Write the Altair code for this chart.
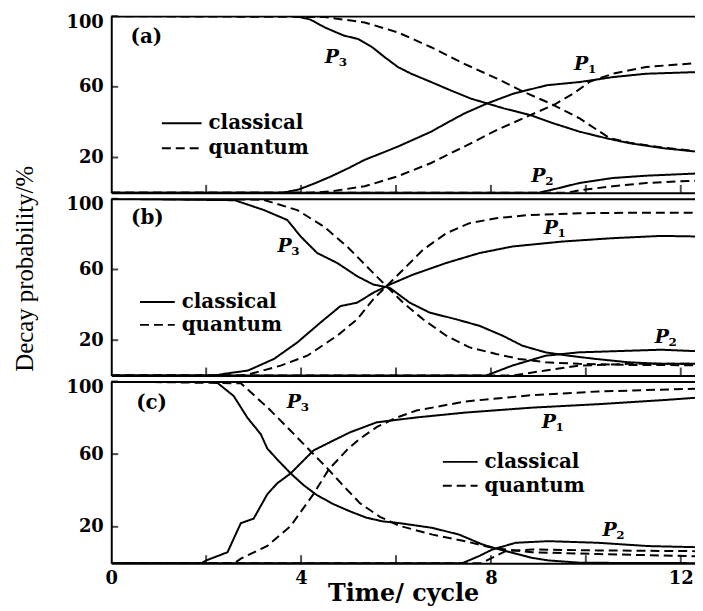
import altair as alt
import pandas as pd

# ---------------- data ----------------
# panel (a)
a_P3_cl_t = [0, 3.9, 4.2, 4.5, 4.9, 5.2, 5.5, 5.76, 6.04, 6.32, 6.74, 7.15, 7.57, 7.92, 8.27, 8.83, 9.32, 9.87, 10.43, 10.92, 11.62, 12.3]
a_P3_cl_p = [100, 100, 98, 93.6, 89.0, 87.1, 82.4, 76.8, 71.2, 67.4, 62.7, 58.0, 53.4, 50.6, 47.8, 44.0, 39.3, 34.6, 30.9, 28.1, 25.3, 23.4]
a_P3_qu_t = [0, 4.5, 5.34, 6.04, 6.74, 7.44, 8.13, 8.69, 9.25, 9.87, 10.5, 10.92, 11.62, 12.3]
a_P3_qu_p = [100, 99.5, 96.4, 90.8, 82.4, 73.0, 64.6, 57.1, 50.6, 42.1, 31.0, 28.4, 25.6, 23.7]
a_P1_cl_t = [0, 3.6, 3.95, 4.3, 4.64, 5.0, 5.34, 5.7, 6.04, 6.4, 6.74, 7.1, 7.44, 7.92, 8.48, 9.18, 9.87, 10.57, 11.27, 12.3]
a_P1_cl_p = [0, 0, 1.9, 5.5, 9.4, 14, 18.7, 22.5, 26.2, 30.5, 34.6, 40, 44.9, 50.6, 56.2, 60.9, 62.7, 65.5, 67.4, 68.3]
a_P1_qu_t = [0, 4.2, 4.64, 5.34, 6.04, 6.74, 7.44, 8.13, 8.83, 9.32, 9.74, 10.09, 10.57, 11.27, 12.3]
a_P1_qu_p = [0, 0, 0.9, 3.7, 9.4, 16.9, 26.2, 35.6, 44.0, 49.7, 56.2, 63.0, 67.4, 71.2, 73.4]
a_P2_cl_t = [0, 9.0, 9.4, 9.87, 10.57, 11.27, 12.3]
a_P2_cl_p = [0, 0, 2.5, 5.6, 8.4, 9.7, 10.9]
a_P2_qu_t = [0, 9.6, 9.87, 10.57, 11.27, 12.3]
a_P2_qu_p = [0, 0, 1.5, 3.7, 5.6, 6.9]

# panel (b)
b_P3_cl_t = [0, 2.6, 3.22, 3.71, 3.99, 4.34, 4.76, 5.18, 5.52, 5.87, 6.29, 6.71, 7.27, 7.76, 8.25, 8.66, 9.15, 9.64, 10.2, 10.89, 11.59, 12.3]
b_P3_cl_p = [100, 99.2, 93.6, 88, 78.7, 69.3, 63.7, 56.2, 51.5, 49.6, 41.2, 35.6, 31.8, 28.1, 22.5, 16.9, 13.1, 11.2, 9.4, 7.5, 6.6, 6.6]
b_P3_qu_t = [0, 3.2, 3.92, 4.48, 4.97, 5.45, 5.73, 6.15, 6.57, 7.06, 7.55, 8.11, 8.59, 9.15, 9.85, 10.89, 12.3]
b_P3_qu_p = [100, 99.5, 93.6, 84.3, 73.0, 59.9, 52.4, 41.2, 31.8, 22.5, 15.9, 12.2, 9.4, 7.5, 6.6, 6.0, 5.8]
b_P1_cl_t = [0, 2.2, 2.39, 2.88, 3.43, 3.92, 4.41, 4.83, 5.18, 5.52, 5.87, 6.36, 7.06, 7.76, 8.45, 9.50, 10.55, 11.59, 12.3]
b_P1_cl_p = [0, 0, 1, 2.8, 9.4, 18.7, 30, 39.3, 41.2, 46.8, 51.5, 57.1, 63.7, 69.3, 73.0, 75.8, 77.7, 79.0, 78.7]
b_P1_qu_t = [0, 2.7, 2.88, 3.57, 4.13, 4.76, 5.18, 5.52, 5.80, 6.15, 6.57, 7.06, 7.55, 8.11, 8.80, 9.85, 10.89, 12.3]
b_P1_qu_p = [0, 0, 0.5, 5.6, 11.2, 22.5, 31.8, 43.1, 50.6, 59.9, 71.2, 80.5, 86.2, 89.0, 90.8, 91.8, 92.1, 92.1]
b_P2_cl_t = [0, 7.9, 8.45, 9.15, 9.85, 10.89, 11.59, 12.3]
b_P2_cl_p = [0, 0, 5.6, 11.2, 13.1, 14.0, 14.6, 13.8]
b_P2_qu_t = [0, 8.45, 9.15, 9.85, 10.89, 12.3]
b_P2_qu_p = [0, 0, 2.8, 5.6, 6.6, 6.6]

# panel (c)
c_P3_cl_t = [0, 2.2, 2.58, 2.87, 3.15, 3.29, 3.5, 3.78, 4.05, 4.33, 4.68, 5.03, 5.38, 5.72, 6.08, 6.77, 7.33, 7.82, 8.17, 8.87, 9.21, 9.9, 12.3]
c_P3_cl_p = [100, 100, 92, 80, 71, 63, 57, 49.4, 43, 37.5, 32.5, 28.5, 25, 23, 22, 19.4, 15.7, 10.3, 7.6, 2.9, 1.5, 0.2, 0]
c_P3_qu_t = [0, 2.73, 3.28, 3.70, 4.15, 4.56, 4.93, 5.24, 5.66, 6.08, 6.77, 7.47, 8.03, 8.87, 10.26, 12.3]
c_P3_qu_p = [100, 99, 86, 75, 63, 52, 41.5, 33, 25.5, 20.5, 15.7, 12, 8.4, 6.0, 5.0, 3.8]
c_P1_cl_t = [0, 1.9, 2.0, 2.45, 2.73, 3.0, 3.29, 3.5, 3.78, 4.26, 4.68, 5.03, 5.59, 6.43, 7.47, 8.87, 10.26, 11.66, 12.3]
c_P1_cl_p = [0, 0, 1.5, 6, 22, 24.5, 38, 44, 49.4, 62, 67.5, 72, 77.5, 80.2, 82.9, 85.6, 87.5, 89.8, 91]
c_P1_qu_t = [0, 2.6, 2.73, 3.29, 3.78, 4.26, 4.58, 4.97, 5.24, 5.60, 6.0, 6.43, 7.47, 8.87, 10.26, 12.3]
c_P1_qu_p = [0, 0, 2.5, 9.5, 20.4, 38, 51.5, 62.4, 68.5, 75, 80, 84, 89, 92.5, 94.5, 96]
c_P2_cl_t = [0, 7.4, 7.75, 8.03, 8.52, 9.21, 10.26, 11.31, 12.3]
c_P2_cl_p = [0, 0, 3.9, 7.5, 11.2, 12.1, 11.2, 9.4, 8.8]
c_P2_qu_t = [0, 7.8, 8.31, 8.87, 10.26, 12.3]
c_P2_qu_p = [0, 0, 6.6, 7.5, 7.0, 6.6]

# curve labels (P_n) per panel
a_lab_t = [4.65, 9.9, 9.0]
a_lab_p = [77, 73, 9.6]
b_lab_t = [3.65, 9.26, 11.6]
b_lab_p = [73, 83.3, 21.5]
c_lab_t = [3.85, 9.22, 10.5]
c_lab_p = [88.4, 77.5, 18.4]
lab_num = ["3", "1", "2"]

# panel tags
tags = ["(a)", "(b)", "(c)"]
tag_t = [0.74, 0.76, 0.85]
tag_p = [88, 89, 88]

models = ["classical", "quantum"]
x_label_values = [0, 4, 8, 12]
x_tick_values = [2, 4, 6, 8, 10, 12]
y_values = [20, 60, 100]

XMAX = 12.3
W = 588
FONT = "DejaVu Serif"


def curves_df(d):
    rows = []
    for (name, model), (ts, ps) in d.items():
        for t, p in zip(ts, ps):
            rows.append({"t": t, "p": p, "key": name + "-" + model, "model": model})
    return pd.DataFrame(rows)


def make_panel(curves, lab_t, lab_p, tag_i, H, legend_cfg, bottom_labels, y_title):
    df = curves_df(curves)
    xs = alt.Scale(domain=[0, XMAX], nice=False, zero=False)
    ys = alt.Scale(domain=[0, 100], nice=False)

    x_axis_kw = dict(orient="bottom", values=x_label_values, ticks=False, tickSize=0,
                     domain=True, domainWidth=2, domainColor="black", grid=False,
                     labelFlush=False, labels=bottom_labels, labelPadding=7)
    if bottom_labels:
        x_axis_kw.update(title="Time/ cycle", titleFont=FONT, titleFontSize=24,
                         titleFontWeight="bold", titleColor="black",
                         titleBaseline="alphabetic", titleY=38)
    else:
        x_axis_kw.update(title=None)

    y_axis_kw = dict(orient="left", values=y_values, ticks=False, tickSize=0,
                     domain=True, domainWidth=2, domainColor="black", grid=False,
                     labelFlush=True, labelFlushOffset=3, labelPadding=8)
    if y_title:
        y_axis_kw.update(title=y_title, titleFont="Liberation Serif", titleFontSize=25,
                         titleFontWeight="normal", titleColor="black", titleAngle=270,
                         titleX=-79, titleY=70, titleBaseline="alphabetic", titleAlign="center")
    else:
        y_axis_kw.update(title=None)

    lx, ly, half_len, lrow = legend_cfg
    lines = alt.Chart(df).mark_line(color="black", strokeWidth=2, clip=True).encode(
        x=alt.X("t:Q", scale=xs, axis=alt.Axis(**x_axis_kw)),
        y=alt.Y("p:Q", scale=ys, axis=alt.Axis(**y_axis_kw)),
        detail="key:N",
        strokeDash=alt.StrokeDash(
            "model:N",
            scale=alt.Scale(domain=models, range=[[1, 0], [9, 5]]),
            legend=alt.Legend(title=None, orient="none", legendX=lx, legendY=ly,
                              symbolType=f"M-{half_len / 10},0H{half_len / 10}", symbolSize=400,
                              symbolOffset=half_len - 10, symbolStrokeWidth=2,
                              symbolStrokeColor="black", labelFont=FONT, labelFontSize=20,
                              labelFontWeight="bold", labelColor="black",
                              labelOffset=half_len - 4,
                              rowPadding=lrow, padding=0),
        ),
    )

    lab_df = pd.DataFrame({"t": lab_t, "p": lab_p, "num": lab_num, "letter": ["P"] * 3})

    letters = alt.Chart(lab_df).mark_text(font=FONT, fontSize=19, fontStyle="italic",
                                           fontWeight="bold", color="black").encode(
        x=alt.X("t:Q", scale=xs, axis=alt.Axis(orient="top", labels=False, ticks=False, domain=True,
                                               domainWidth=2, domainColor="black", grid=False, title=None)),
        y=alt.Y("p:Q", scale=ys, axis=None),
        text="letter:N",
    )

    subs = alt.Chart(lab_df).mark_text(font=FONT, fontSize=12, fontWeight="bold", color="black",
                                        dx=11, dy=5).encode(
        x=alt.X("t:Q", scale=xs, axis=None),
        y=alt.Y("p:Q", scale=ys, axis=None),
        text="num:N",
    )

    # inward-pointing ticks, drawn on the axes' own scales
    xt = alt.Chart(pd.DataFrame({"v": x_tick_values})).mark_tick(
        color="black", thickness=2, size=8, orient="vertical").encode(
        x=alt.X("v:Q", scale=xs, axis=None), y=alt.value(H - 4))
    yt = alt.Chart(pd.DataFrame({"v": y_values})).mark_tick(
        color="black", thickness=2, size=7, orient="horizontal").encode(
        y=alt.Y("v:Q", scale=ys, axis=None), x=alt.value(3.5))

    tag_df = pd.DataFrame({"t": [tag_t[tag_i]], "p": [tag_p[tag_i]], "tag": [tags[tag_i]]})
    tag = alt.Chart(tag_df).mark_text(font=FONT, fontSize=20, fontWeight="bold", color="black").encode(
        x=alt.X("t:Q", scale=xs, axis=None),
        y=alt.Y("p:Q", scale=ys, axis=None),
        text="tag:N",
    )

    return alt.layer(lines, letters, subs, xt, yt, tag).resolve_axis(
        x="independent", y="independent").properties(width=W, height=H)


pa = make_panel({("P3", "classical"): (a_P3_cl_t, a_P3_cl_p), ("P3", "quantum"): (a_P3_qu_t, a_P3_qu_p),
                 ("P1", "classical"): (a_P1_cl_t, a_P1_cl_p), ("P1", "quantum"): (a_P1_qu_t, a_P1_qu_p),
                 ("P2", "classical"): (a_P2_cl_t, a_P2_cl_p), ("P2", "quantum"): (a_P2_qu_t, a_P2_qu_p)},
                a_lab_t, a_lab_p, 0, 178, (50, 97, 20, 4), False, None)
pb = make_panel({("P3", "classical"): (b_P3_cl_t, b_P3_cl_p), ("P3", "quantum"): (b_P3_qu_t, b_P3_qu_p),
                 ("P1", "classical"): (b_P1_cl_t, b_P1_cl_p), ("P1", "quantum"): (b_P1_qu_t, b_P1_qu_p),
                 ("P2", "classical"): (b_P2_cl_t, b_P2_cl_p), ("P2", "quantum"): (b_P2_qu_t, b_P2_qu_p)},
                b_lab_t, b_lab_p, 1, 178, (28, 93, 17.5, 2), False, "Decay probability/%")
pc = make_panel({("P3", "classical"): (c_P3_cl_t, c_P3_cl_p), ("P3", "quantum"): (c_P3_qu_t, c_P3_qu_p),
                 ("P1", "classical"): (c_P1_cl_t, c_P1_cl_p), ("P1", "quantum"): (c_P1_qu_t, c_P1_qu_p),
                 ("P2", "classical"): (c_P2_cl_t, c_P2_cl_p), ("P2", "quantum"): (c_P2_qu_t, c_P2_qu_p)},
                c_lab_t, c_lab_p, 2, 183, (333, 70, 17.5, 3), True, None)

chart = alt.vconcat(pa, pb, pc, spacing=6, bounds="flush").resolve_scale(
    strokeDash="independent").resolve_legend(strokeDash="independent").properties(
    padding={"top": 3, "left": 5, "right": 0, "bottom": 0},
    background="white",
).configure_view(stroke=None).configure_axis(
    labelFont=FONT, labelFontSize=18, labelFontWeight="bold", labelColor="black"
)

chart.save("out.html", embed_options={"renderer": "svg", "actions": False})
